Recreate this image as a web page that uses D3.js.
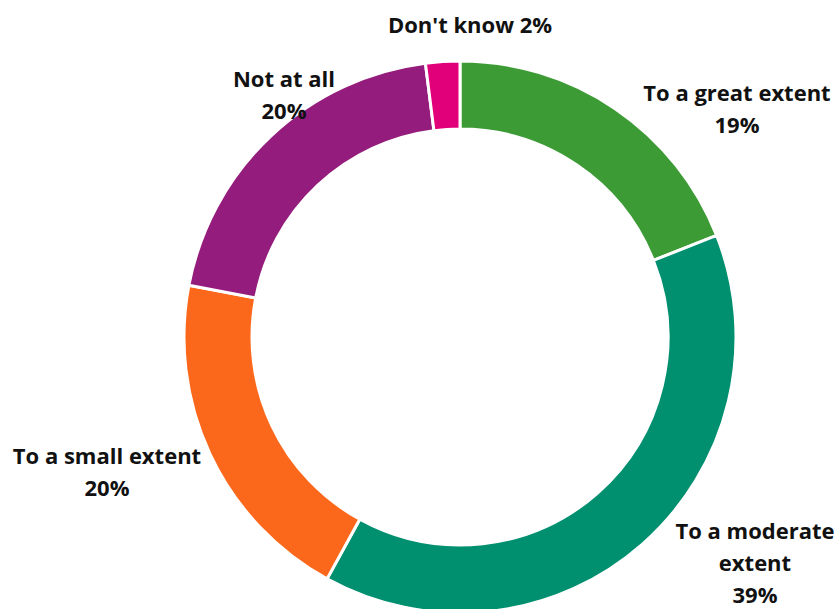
<!DOCTYPE html>
<html>
<head>
<meta charset="utf-8">
<script src="https://cdn.jsdelivr.net/npm/d3@7"></script>
<style>
  html, body { margin: 0; padding: 0; background: #fff; }
  svg { display: block; }
  .lbl { font-family: "Open Sans", Lato, sans-serif; font-weight: 700; font-size: 22px; fill: #111; }
</style>
</head>
<body>
<svg id="chart"></svg>
<script>
const categories = ["To a great extent", "To a moderate extent", "To a small extent", "Not at all", "Don't know"];
const values = [19, 39, 20, 20, 2];
const colors = ["#3c9b35", "#008f6f", "#fc681b", "#941c7c", "#e2007a"];
// label text lines per slice, as shown in the picture
const labelLines = [
  ["To a great extent", "19%"],
  ["To a moderate", "extent", "39%"],
  ["To a small extent", "20%"],
  ["Not at all", "20%"],
  ["Don't know 2%"]
];
// label centre of first line, in px
const labelPos = [[737, 92], [755, 530], [107, 455], [284, 78], [470, 24]];

const width = 840;
const height = 609;
const cx = 460;
const cy = 337;
const outerR = 276;
const innerR = 208;
const lineH = 32;

const svg = d3.select("#chart").attr("width", width).attr("height", height);

const pie = d3.pie().sort(null).value((d) => d);
const arc = d3.arc().innerRadius(innerR).outerRadius(outerR);

const g = svg.append("g").attr("transform", `translate(${cx},${cy})`);

g.selectAll("path.slice")
  .data(pie(values))
  .join("path")
  .attr("class", "slice")
  .attr("d", arc)
  .attr("fill", (d, i) => colors[i])
  .attr("stroke", "#fff")
  .attr("stroke-width", 3);

const labels = svg.selectAll("text.lbl")
  .data(categories)
  .join("text")
  .attr("class", "lbl")
  .attr("text-anchor", "middle")
  .attr("dominant-baseline", "central")
  .attr("x", (d, i) => labelPos[i][0])
  .attr("y", (d, i) => labelPos[i][1]);

labels.each(function (d, i) {
  d3.select(this).selectAll("tspan")
    .data(labelLines[i])
    .join("tspan")
    .attr("x", labelPos[i][0])
    .attr("dy", (t, j) => (j === 0 ? 0 : lineH))
    .text((t) => t);
});
</script>
</body>
</html>
